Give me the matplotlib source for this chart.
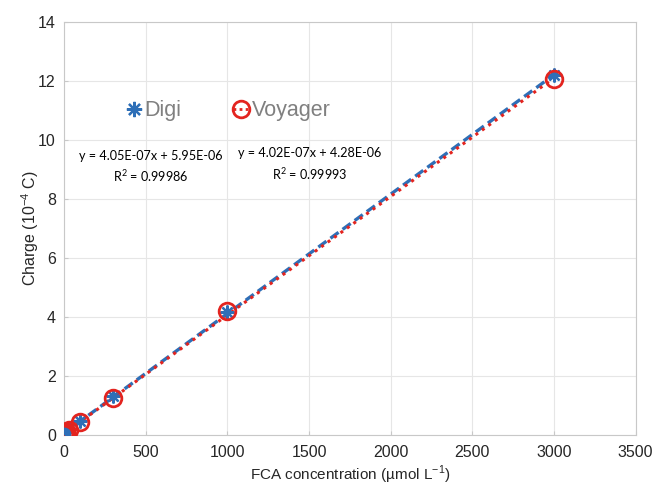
import numpy as np
import matplotlib
matplotlib.use("Agg")
import matplotlib.pyplot as plt
from matplotlib.lines import Line2D

# FCA concentration (umol/L) and charge (1e-4 C)
conc = [1, 5, 10, 30, 100, 300, 1000, 3000]
digi_q = [0.06, 0.08, 0.10, 0.18, 0.47, 1.32, 4.15, 12.21]
voy_q = [0.04, 0.06, 0.08, 0.16, 0.44, 1.24, 4.20, 12.08]

# linear fits (C vs umol/L)
digi_fit = (4.05e-07, 5.95e-06)
voy_fit = (4.02e-07, 4.28e-06)
digi_r2 = 0.99986
voy_r2 = 0.99993

blue = "#2e6fb7"
red = "#e3241f"
asterisk = (8, 2, 0)

plt.rcParams["font.family"] = ["Liberation Sans", "DejaVu Sans"]

fig = plt.figure(figsize=(6.54, 4.88), dpi=100)
ax = fig.add_axes([0.098, 0.109, 0.874, 0.846])

xf = np.array([0, 3000])
ax.plot(xf, (digi_fit[0] * xf + digi_fit[1]) * 1e4, color=blue, lw=2.4,
        ls=(0, (3, 1.5)), zorder=2)
ax.plot(xf, (voy_fit[0] * xf + voy_fit[1]) * 1e4, color=red, lw=2.2,
        ls=(0, (1, 1.6)), zorder=3)

ax.plot(conc, digi_q, ls="none", marker=asterisk, color=blue, ms=10, mew=1.6,
        zorder=4)
ax.plot(conc, voy_q, ls="none", marker="o", mfc="none", mec=red, ms=12,
        mew=2, zorder=5)

ax.set_xlim(0, 3500)
ax.set_ylim(0, 14)
ax.set_xticks(np.arange(0, 3501, 500))
ax.set_yticks(np.arange(0, 15, 2))
ax.grid(True, color="#e6e6e6", lw=0.8)
ax.set_axisbelow(True)
for s in ax.spines.values():
    s.set_color("#c8c8c8")
ax.tick_params(colors="#c8c8c8", labelcolor="#262626", labelsize=11.5,
               length=3, direction="in")
ax.tick_params(axis="x", pad=7)
ax.tick_params(axis="y", pad=6)

ax.set_xlabel("FCA concentration (µmol L$^{\\mathregular{-1}}$)", fontsize=11,
              color="#262626", labelpad=3)
ax.set_ylabel("Charge (10$^{\\mathregular{-4}}$ C)", fontsize=11.5,
              color="#262626", labelpad=-2)

handles = [
    Line2D([], [], ls="none", marker=asterisk, color=blue, ms=11, mew=1.6),
    Line2D([], [], color=red, ls=(0, (1, 1.2)), lw=2, marker="o",
           mfc="none", mec=red, ms=12, mew=2),
]
ax.legend(handles, ["Digi", "Voyager"], ncol=2, frameon=False,
          loc="center left", bbox_to_anchor=(0.075, 0.785),
          handlelength=0.7, handletextpad=0.15, columnspacing=2.4,
          prop={"size": 15.5}, labelcolor="#808080")

eq_font = {"family": ["Lato", "DejaVu Sans"], "size": 9.1, "color": "black"}
ax.text(0.152, 0.675, f"y = {digi_fit[0]:.2E}x + {digi_fit[1]:.2E}",
        transform=ax.transAxes, ha="center", va="center", fontdict=eq_font)
ax.text(0.152, 0.626, f"R$^{{\\mathregular{{2}}}}$ = {digi_r2}",
        transform=ax.transAxes, ha="center", va="center", fontdict=eq_font)
ax.text(0.43, 0.682, f"y = {voy_fit[0]:.2E}x + {voy_fit[1]:.2E}",
        transform=ax.transAxes, ha="center", va="center", fontdict=eq_font)
ax.text(0.43, 0.632, f"R$^{{\\mathregular{{2}}}}$ = {voy_r2}",
        transform=ax.transAxes, ha="center", va="center", fontdict=eq_font)

fig.savefig("out.png", dpi=100)
